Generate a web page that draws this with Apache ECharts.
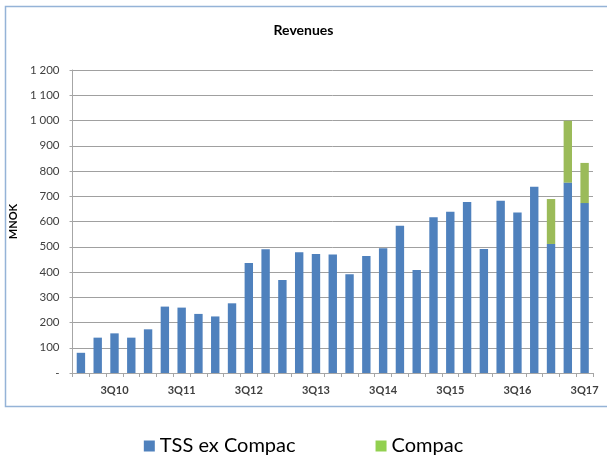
<!DOCTYPE html>
<html>
<head>
<meta charset="utf-8">
<script src="https://cdn.jsdelivr.net/npm/echarts@6/dist/echarts.min.js"></script>
<style>
  html, body { margin: 0; padding: 0; background: #fff; }
  #main { width: 607px; height: 460px; }
</style>
</head>
<body>
<div id="main"></div>
<script>
var quarters = ['1Q10', '2Q10', '3Q10', '4Q10', '1Q11', '2Q11', '3Q11', '4Q11',
    '1Q12', '2Q12', '3Q12', '4Q12', '1Q13', '2Q13', '3Q13', '4Q13',
    '1Q14', '2Q14', '3Q14', '4Q14', '1Q15', '2Q15', '3Q15', '4Q15',
    '1Q16', '2Q16', '3Q16', '4Q16', '1Q17', '2Q17', '3Q17'];
var tssExCompac = [80, 140, 157, 140, 173, 263, 259, 234,
    224, 276, 436, 490, 368, 478, 471, 469,
    391, 463, 494, 583, 408, 617, 639, 677,
    491, 682, 636, 738, 511, 754, 673];
var compac = [null, null, null, null, null, null, null, null,
    null, null, null, null, null, null, null, null,
    null, null, null, null, null, null, null, null,
    null, null, null, null, 178, 245, 159];

var chart = echarts.init(document.getElementById('main'));

function fmtY(v) {
    if (v === 0) return '-';
    return String(v).replace(/\B(?=(\d{3})+(?!\d))/g, ' ');
}

var option = {
    animation: false,
    textStyle: { fontFamily: 'Lato, "Open Sans", sans-serif' },
    title: {
        text: 'Revenues',
        left: 'center',
        top: 18,
        textStyle: { fontSize: 14, fontWeight: 'bold', color: '#000', fontFamily: 'Lato, sans-serif' }
    },
    graphic: [{
        type: 'rect',
        shape: { x: 5.5, y: 6.5, width: 610, height: 400 },
        style: { fill: 'none', stroke: '#95B3D7', lineWidth: 1.5 },
        silent: true
    }],
    legend: {
        bottom: -1,
        left: 'center',
        itemGap: 80,
        itemWidth: 11,
        itemHeight: 11,
        icon: 'rect',
        textStyle: { fontSize: 20, color: '#000', fontFamily: 'Lato, sans-serif' },
        data: [
            { name: 'TSS ex Compac', itemStyle: { color: '#4F81BD' } },
            { name: 'Compac', itemStyle: { color: '#92D050' } }
        ]
    },
    grid: { left: 60, right: 14, top: 70, bottom: 87 },
    xAxis: {
        type: 'category',
        data: quarters,
        axisLine: { lineStyle: { color: '#A6A6A6' } },
        axisTick: { show: true, interval: 0, length: 4, lineStyle: { color: '#A6A6A6' } },
        axisLabel: {
            interval: function (i) { return i % 4 === 2; },
            fontSize: 11,
            fontWeight: 'bold',
            color: '#404040',
            margin: 12
        }
    },
    yAxis: {
        type: 'value',
        min: 0,
        max: 1200,
        interval: 100,
        name: 'MNOK',
        nameLocation: 'middle',
        nameRotate: 90,
        nameGap: 41,
        nameTextStyle: { fontSize: 11, fontWeight: 'bold', color: '#000' },
        axisLine: { show: true, lineStyle: { color: '#A6A6A6' } },
        axisTick: { show: true, length: 3, lineStyle: { color: '#A6A6A6' } },
        splitLine: { lineStyle: { color: '#A0A0A0' } },
        axisLabel: { formatter: fmtY, fontSize: 11.5, color: '#404040', margin: 13 }
    },
    series: [
        {
            name: 'TSS ex Compac',
            type: 'bar',
            stack: 'rev',
            barWidth: '50%',
            itemStyle: { color: '#4F81BD' },
            data: tssExCompac
        },
        {
            name: 'Compac',
            type: 'bar',
            stack: 'rev',
            barWidth: '50%',
            itemStyle: { color: '#9BBB59' },
            data: compac
        }
    ]
};
chart.setOption(option);
</script>
</body>
</html>
